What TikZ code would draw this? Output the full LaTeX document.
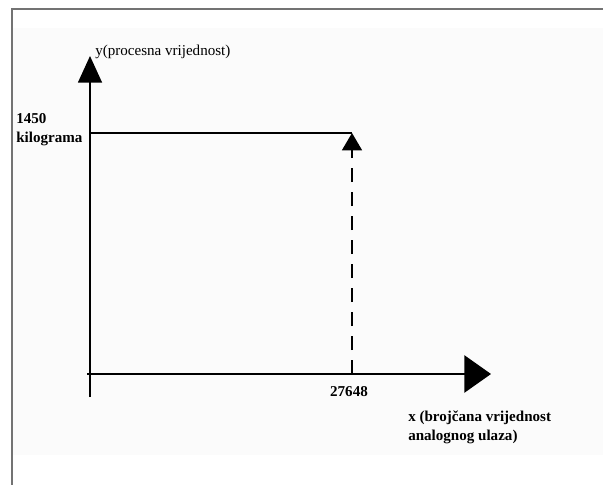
\documentclass[tikz,border=0pt]{standalone}
\usepackage{fontspec}
\setmainfont{Liberation Serif}
\usetikzlibrary{arrows.meta}

\begin{document}
\begin{tikzpicture}[x=0.75pt,y=-0.75pt,
  axis/.style={line width=1.1pt},
  lbl/.style={inner sep=0pt,font=\fontsize{11.3}{14.2}\selectfont\bfseries,align=left}]
\useasboundingbox (0,0) rectangle (603,485);
\fill[white] (0,0) rectangle (603,485);
\fill[gray!3] (13,28) rectangle (603,455);
\draw[gray!90!black,line width=1.4pt] (12,485)--(12,9)--(603,9);

\coordinate (o) at (90,374);
\coordinate (ybot) at (90,397);
\coordinate (ytop) at (90,56);
\coordinate (xleft) at (87,374);
\coordinate (xtip) at (491,374);
\coordinate (ymax) at (90,133);
\coordinate (pt) at (352,133);
\coordinate (xmax) at (352,374);

\draw[axis,-{Triangle[length=20pt,width=18pt]}] (ybot)--(ytop);
\draw[axis,-{Triangle[length=20pt,width=28pt]}] (xleft)--(xtip);
\draw[axis] (ymax)--(pt);
\draw[axis,dash pattern=on 10.5pt off 7.5pt,-{Triangle[length=13pt,width=15pt]}] (xmax)--(pt);

\node[inner sep=0pt,anchor=west,font=\fontsize{11.3}{14}\selectfont] (ylab) at (95,52) {y(procesna vrijednost)};
\node[lbl,anchor=west] (kg) at (16,130) {1450\\kilograma};
\node[lbl] (xval) at (349,392) {27648};
\node[lbl,anchor=west] (xlab) at (408,427) {x (brojčana vrijednost\\analognog ulaza)};
\end{tikzpicture}
\end{document}
